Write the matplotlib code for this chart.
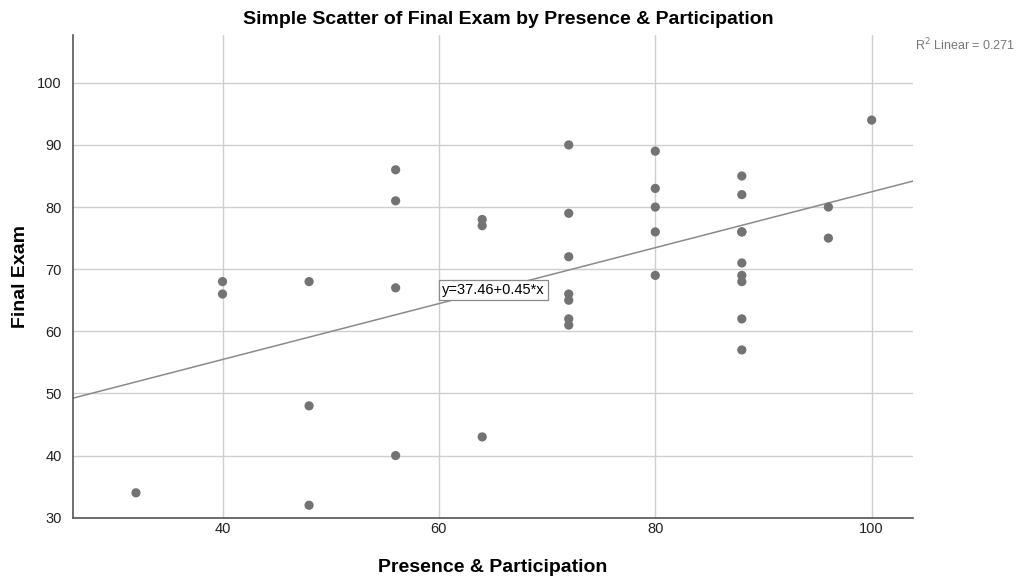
import numpy as np
import matplotlib
matplotlib.use("Agg")
import matplotlib.pyplot as plt

plt.rcParams['font.family'] = ['Liberation Sans', 'DejaVu Sans']

# presence & participation vs final exam
presence = [32,
            40, 40,
            48, 48, 48,
            56, 56, 56, 56,
            64, 64, 64,
            72, 72, 72, 72, 72, 72, 72,
            80, 80, 80, 80, 80,
            88, 88, 88, 88, 88, 88, 88, 88, 88,
            96, 96,
            100]
final_exam = [34,
              68, 66,
              68, 48, 32,
              86, 81, 67, 40,
              78, 77, 43,
              90, 79, 72, 66, 65, 62, 61,
              89, 83, 80, 76, 69,
              85, 82, 76, 76, 71, 69, 68, 62, 57,
              80, 75,
              94]

x_ticks = [40, 60, 80, 100]
y_ticks = [30, 40, 50, 60, 70, 80, 90, 100]
intercept = 37.46
slope = 0.45
r2 = 0.271

fig = plt.figure(figsize=(10.21, 5.81), dpi=100)
ax = fig.add_axes([0.0712, 0.109, 0.8228, 0.8308])

ax.set_xlim(26.15, 103.8)
ax.set_ylim(30, 107.7)
ax.set_xticks(x_ticks)
ax.set_yticks(y_ticks)
ax.grid(True, color='#cfcfcf', linewidth=1.0)
ax.set_axisbelow(True)
ax.tick_params(length=0, labelsize=10.5, colors='#222222')
ax.tick_params(axis='x', pad=3)
ax.tick_params(axis='y', pad=8)

for s in ['top', 'right']:
    ax.spines[s].set_visible(False)
for s in ['left', 'bottom']:
    ax.spines[s].set_color('#555555')
    ax.spines[s].set_linewidth(1.2)

ax.scatter(presence, final_exam, s=44, color='#737373', edgecolors='none', zorder=3)

xl = np.array(ax.get_xlim())
ax.plot(xl, intercept + slope * xl, color='#8a8a8a', linewidth=1.1, zorder=2)

ax.text(60.3, 66.6, "y=37.46+0.45*x", fontsize=10.5, va='center', ha='left', zorder=4,
        bbox=dict(boxstyle='square,pad=0.2', facecolor='white', edgecolor='#8a8a8a', linewidth=0.9))

fig.text(0.994, 0.922, "R$^2$ Linear = %.3f" % r2, fontsize=9, color='#777777', ha='right', va='center')

fig.suptitle("Simple Scatter of Final Exam by Presence & Participation", fontsize=14,
             fontweight='bold', x=0.498, y=0.966, va='center')
ax.set_xlabel("Presence & Participation", fontsize=14, fontweight='bold', labelpad=17)
ax.set_ylabel("Final Exam", fontsize=14, fontweight='bold', labelpad=6)

plt.savefig('out.png', dpi=100)
